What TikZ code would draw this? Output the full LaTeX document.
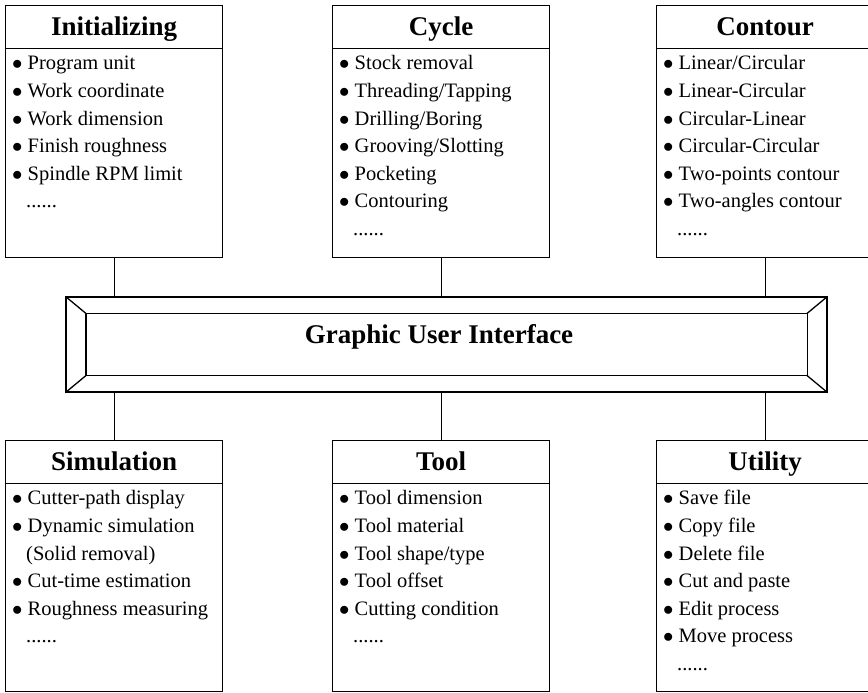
\documentclass[tikz,border=0pt]{standalone}
\usepackage{fontspec}
\setmainfont{Liberation Serif}
\usetikzlibrary{positioning,calc}

\newcommand{\itm}[1]{\makebox[14pt][l]{\hspace{-1.5pt}$\bullet$}#1}
\newcommand{\subl}[1]{\hspace{12.5pt}#1}

\tikzset{
  module/.style={draw, line width=1.3pt, anchor=north west, minimum width=217pt, inner sep=0pt},
  head/.style={font=\fontsize{27}{30}\selectfont\bfseries, anchor=base, inner sep=0pt},
  item/.style={font=\fontsize{20.5}{24}\selectfont, anchor=base west, inner sep=0pt},
  link/.style={line width=1.3pt},
}

\begin{document}
\begin{tikzpicture}[x=1pt,y=1pt]
    \useasboundingbox (0,0) rectangle (868,693);

    % module boxes with title bar
    \foreach \n/\x/\y/\h/\t in {init/5/688/252/Initializing, cycle/332/688/252/Cycle, contour/656/688/252/Contour,
                                sim/5/253/251/Simulation, tool/332/253/251/Tool, util/656/253/251/Utility} {
        \node[module, minimum height=\h pt] (\n) at (\x,\y) {};
        \draw[link] ($(\n.north west)+(0,-43.5)$) -- ($(\n.north east)+(0,-43.5)$);
        \node[head] (\n-title) at ($(\n.north)+(0,-31)$) {\t};
    }

    % GUI bevelled box
    \node[draw, line width=1.3pt, minimum width=761pt, minimum height=95pt, inner sep=0pt] (gui) at (446.5,348.5) {};
    \coordinate (gnw) at ($(gui.north west)+(20.5,-17)$);
    \coordinate (gne) at ($(gui.north east)+(-20.5,-17)$);
    \coordinate (gsw) at ($(gui.south west)+(20.5,17)$);
    \coordinate (gse) at ($(gui.south east)+(-20.5,17)$);
    \draw[link] (gnw) rectangle (gse);
    \draw[link] (gui.north west) -- (gnw);
    \draw[link] (gui.north east) -- (gne);
    \draw[link] (gui.south west) -- (gsw);
    \draw[link] (gui.south east) -- (gse);
    \node[head] (gui-title) at (439,349) {Graphic User Interface};

    % connectors
    \foreach \n in {init, cycle, contour}
        \draw[link] (\n.south) -- (\n.south |- gui.north);
    \foreach \n in {sim, tool, util}
        \draw[link] (\n.north) -- (\n.north |- gui.south);

    % item lists
    \foreach \t [count=\i from 0] in {\itm{Program unit}, \itm{Work coordinate}, \itm{Work dimension},
            \itm{Finish roughness}, \itm{Spindle RPM limit}, \subl{......}}
        \node[item] at ($(init.north west)+(8.5,-65-27.6*\i)$) {\t};
    \foreach \t [count=\i from 0] in {\itm{Stock removal}, \itm{Threading/Tapping}, \itm{Drilling/Boring},
            \itm{Grooving/Slotting}, \itm{Pocketing}, \itm{Contouring}, \subl{......}}
        \node[item] at ($(cycle.north west)+(8.5,-65-27.6*\i)$) {\t};
    \foreach \t [count=\i from 0] in {\itm{Linear/Circular}, \itm{Linear-Circular}, \itm{Circular-Linear},
            \itm{Circular-Circular}, \itm{Two-points contour}, \itm{Two-angles contour}, \subl{......}}
        \node[item] at ($(contour.north west)+(8.5,-65-27.6*\i)$) {\t};
    \foreach \t [count=\i from 0] in {\itm{Cutter-path display}, \itm{Dynamic simulation}, \subl{(Solid removal)},
            \itm{Cut-time estimation}, \itm{Roughness measuring}, \subl{......}}
        \node[item] at ($(sim.north west)+(8.5,-65-27.6*\i)$) {\t};
    \foreach \t [count=\i from 0] in {\itm{Tool dimension}, \itm{Tool material}, \itm{Tool shape/type},
            \itm{Tool offset}, \itm{Cutting condition}, \subl{......}}
        \node[item] at ($(tool.north west)+(8.5,-65-27.6*\i)$) {\t};
    \foreach \t [count=\i from 0] in {\itm{Save file}, \itm{Copy file}, \itm{Delete file},
            \itm{Cut and paste}, \itm{Edit process}, \itm{Move process}, \subl{......}}
        \node[item] at ($(util.north west)+(8.5,-65-27.6*\i)$) {\t};

\end{tikzpicture}
\end{document}
